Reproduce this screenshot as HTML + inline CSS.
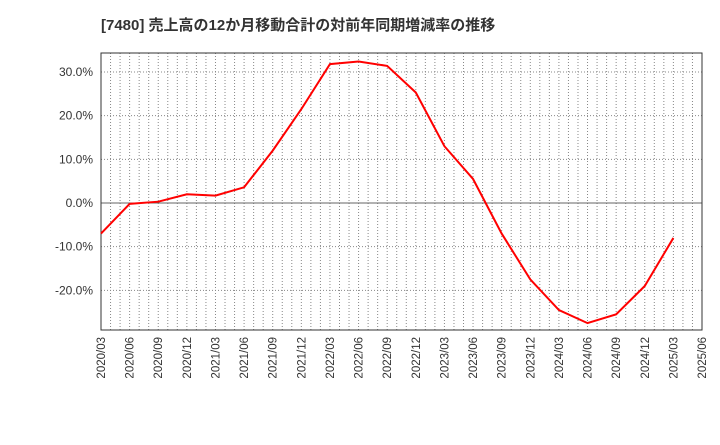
<!DOCTYPE html>
<html><head><meta charset="utf-8"><style>
body{margin:0;background:#fff;font-family:"Liberation Sans","Noto Sans CJK JP",sans-serif}
</style></head><body>
<svg id="c" width="720" height="440" xmlns="http://www.w3.org/2000/svg">
<text x="101" y="30" font-size="15" font-weight="bold" fill="#333" font-family="Liberation Sans,Noto Sans CJK JP,sans-serif">[7480]  売上高の12か月移動合計の対前年同期増減率の推移</text>
</svg>
<script>
const categories=["2020/03","2020/06","2020/09","2020/12","2021/03","2021/06","2021/09","2021/12","2022/03","2022/06","2022/09","2022/12","2023/03","2023/06","2023/09","2023/12","2024/03","2024/06","2024/09","2024/12","2025/03","2025/06"];
const values=[-7,-0.2,0.3,2.0,1.7,3.6,12,21.5,31.8,32.4,31.4,25.3,13,5.5,-7,-17.5,-24.5,-27.5,-25.5,-19,-8];
const yTicks=[30,20,10,0,-10,-20];
const NS="http://www.w3.org/2000/svg",svg=document.getElementById('c');
const L=101,R=702,T=53,B=330,yMin=-29.08,yMax=34.35;
const x=i=>L+(R-L)*i/(categories.length-1);
const y=v=>B-(v-yMin)/(yMax-yMin)*(B-T);
function mk(t,a){const e=document.createElementNS(NS,t);for(const k in a)e.setAttribute(k,a[k]);svg.appendChild(e);return e;}
for(let m=1;m<(categories.length-1)*3;m++){const xx=L+(R-L)*m/((categories.length-1)*3);
const g=mk('line',{x1:xx,x2:xx,y1:T,y2:B,stroke:'#888','stroke-width':1,'stroke-dasharray':'1,2'});

}
yTicks.forEach(v=>{const yy=y(v);
const g=mk('line',{x1:L,x2:R,y1:yy,y2:yy,stroke:v===0?'#666':'#888','stroke-width':1,'stroke-dasharray':v===0?'':'1,2'});


const t=mk('text',{x:L-8,y:yy+4,'text-anchor':'end','font-size':12,fill:'#333'});t.textContent=v.toFixed(1)+'%';

});
categories.forEach((c,i)=>{const t=mk('text',{transform:`translate(${x(i)+4},${B+7}) rotate(-90)`,'text-anchor':'end','font-size':11.5,fill:'#333'});t.textContent=c;

});
const f=mk('rect',{x:L,y:T,width:R-L,height:B-T,fill:'none',stroke:'#333','stroke-width':1});


const p=mk('polyline',{points:values.map((v,i)=>x(i)+','+y(v)).join(' '),fill:'none',stroke:'#f00','stroke-width':2});


</script>
</body></html>
